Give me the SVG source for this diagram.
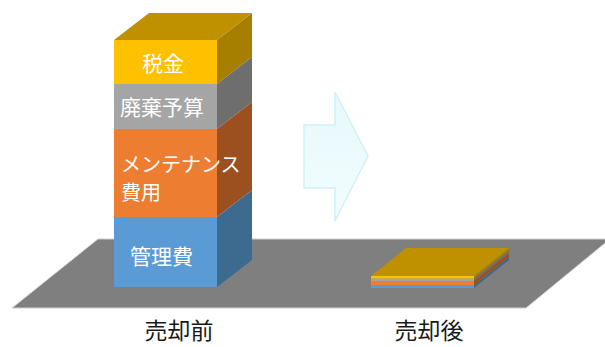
<svg xmlns="http://www.w3.org/2000/svg" width="605" height="347" viewBox="0 0 605 347">
  <defs>
    <linearGradient id="arrowGrad" x1="0" y1="0" x2="0" y2="1">
      <stop offset="0" stop-color="#E6F9FB"/>
      <stop offset="1" stop-color="#F2FDFE"/>
    </linearGradient>
  </defs>
  <style>
    .lbl { font-family: "Noto Sans CJK JP", "Noto Sans", sans-serif; fill: #ffffff; font-size: 21px; }
    .sm { font-size: 20px; }
    .cap { font-family: "Noto Sans CJK JP", "Noto Sans", sans-serif; fill: #1a1a1a; font-size: 23px; text-anchor: middle; }
    .y { fill: #FFC000; } .ys { fill: #A67F00; } .yt { fill: #BF9000; }
    .g { fill: #A5A5A5; } .gs { fill: #6E6E6E; }
    .o { fill: #ED7D31; } .os { fill: #9C4F1F; }
    .b { fill: #5B9BD5; } .bs { fill: #3D6A8F; }
  </style>

  <g id="floor">
    <polygon points="98,239 610,239 526,308 12,308" fill="#7F7F7F" stroke="#CFCFCF" stroke-width="1"/>
  </g>

  <g id="stack-before">
    <g id="tax">
      <rect class="y" x="114" y="40" width="103" height="44"/>
      <polygon class="ys" points="217,40 252,13 252,57 217,84"/>
      <polygon class="yt" points="114,40 149,13 252,13 217,40"/>
      <text class="lbl" x="142" y="71">税金</text>
    </g>
    <g id="disposal">
      <rect class="g" x="114" y="84" width="103" height="45"/>
      <polygon class="gs" points="217,84 252,57 252,102 217,129"/>
      <text class="lbl" x="120" y="115">廃棄予算</text>
    </g>
    <g id="maintenance">
      <rect class="o" x="114" y="129" width="103" height="88"/>
      <polygon class="os" points="217,129 252,102 252,190 217,217"/>
      <text class="lbl sm" x="121" y="172">メンテナンス</text>
      <text class="lbl sm" x="121" y="200">費用</text>
    </g>
    <g id="management">
      <rect class="b" x="114" y="217" width="103" height="70"/>
      <polygon class="bs" points="217,217 252,190 252,260 217,287"/>
      <text class="lbl" x="130" y="264">管理費</text>
    </g>
  </g>

  <g id="arrow">
    <polygon points="304,125 335,125 335,92 368,156 335,221 335,188 304,188" fill="url(#arrowGrad)" stroke="#D2F1F5" stroke-width="1.5"/>
  </g>

  <g id="stack-after">
    <rect class="b" x="371" y="285" width="103" height="3"/>
    <rect class="o" x="371" y="281" width="103" height="4"/>
    <rect class="g" x="371" y="278.5" width="103" height="2.5"/>
    <rect class="y" x="371" y="276" width="103" height="2.5"/>
    <polygon class="bs" points="474,285 509,257 509,260 474,288"/>
    <polygon class="os" points="474,281 509,253 509,257 474,285"/>
    <polygon class="gs" points="474,278.5 509,250.5 509,253 474,281"/>
    <polygon class="ys" points="474,276 509,248 509,250.5 474,278.5"/>
    <polygon class="yt" points="371,276 406,248 509,248 474,276"/>
  </g>

  <g id="captions">
    <text class="cap" x="179" y="339">売却前</text>
    <text class="cap" x="429" y="339">売却後</text>
  </g>
</svg>
